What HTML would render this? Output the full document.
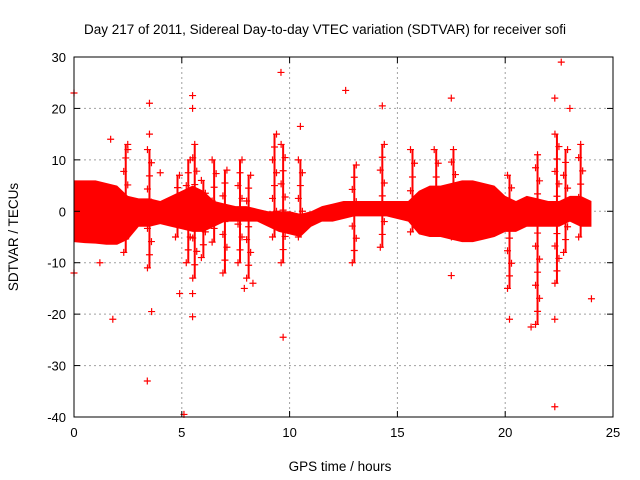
<!DOCTYPE html>
<html><head><meta charset="utf-8">
<style>body{margin:0;background:#fff}svg{display:block;font-family:"Liberation Sans",sans-serif}</style>
</head><body>
<svg id="chart" width="640" height="480">
<rect width="640" height="480" fill="#fff"/>
<text x="325" y="34" font-size="13.5" text-anchor="middle">Day 217 of 2011, Sidereal Day-to-day VTEC variation (SDTVAR) for receiver sofi</text>
<text x="340" y="471" font-size="13.5" text-anchor="middle">GPS time / hours</text>
<text transform="translate(18,237) rotate(-90)" font-size="13.5" text-anchor="middle">SDTVAR / TECUs</text>
<g id="grid"></g><g id="marks"></g><g id="axes"></g>
</svg>
<script>
const xTicks=[0,5,10,15,20,25];
const yTicks=[30,20,10,0,-10,-20,-30,-40];
const bandHours=[0,0.5,1,1.5,2,2.5,3,3.5,4,4.5,5,5.5,6,6.5,7,7.5,8,8.5,9,9.5,10,10.5,11,11.5,12,12.5,13,13.5,14,14.5,15,15.5,16,16.5,17,17.5,18,18.5,19,19.5,20,20.5,21,21.5,22,22.5,23,23.5,24];
const bandUpper=[6,6,6,5.5,5,3,2.5,2.5,2,3,4,5,4,2,1.5,1,1,0.5,0,0,0,-0.5,0,1,1.5,2,2,2,2,2,2,2,4,5,5,5.5,6,6,5.5,5,3,2,3,2.5,2,2,3,3,2];
const bandLower=[-6,-6.2,-6.3,-6.5,-6.5,-5.5,-3,-3,-2.5,-3,-3.5,-4,-4,-3,-2,-2,-2,-2,-3,-4,-4.5,-5,-3,-2,-2,-1.5,-1,-1,-1,-1,-1.5,-2,-4.5,-5,-5,-5.5,-6,-6,-5.5,-5,-4,-4,-3,-3,-3,-3,-2,-3,-3];
const spikeHours=[3.5,5.3,5.6,6.5,7,7.7,8.1,9.3,9.7,10.5,13,14.3,15.7,16.8,17.6,20.2,21.5,22.4,22.8,23.5,2.4,4.8,6.0];
const spikeMin=[-11,-10,-13,-6,-12,-10,-13,-5,-10,-5,-10,-7,-4,-4,-5,-15,-22,-14,-8,-5,-8,-5,-9];
const spikeMax=[12,10,13,10,8,10,7,15,13,10,9,13,12,12,12,7,11,15,12,13,13,7,6];
const outHours=[0,0,1.8,1.7,3.4,3.5,3.5,3.6,4.9,5.1,5.5,5.5,5.5,5.5,9.6,9.7,10.5,12.6,14.3,17.5,17.5,20.2,21.2,22.3,22.3,22.3,22.6,23,24,2.5,8.3,7.9,4.0,1.2];
const outValues=[23,-12,-21,14,-33,21,15,-19.5,-16,-39.5,22.5,20,-20.5,-16,27,-24.5,16.5,23.5,20.5,22,-12.5,-21,-22.5,22,-38,-21,29,20,-17,12,-14,-15,7.5,-10];
const L=74,R=613,T=57,B=417,X0=0,X1=25,Y0=-40,Y1=30;
const xs=v=>L+(v-X0)/(X1-X0)*(R-L), ys=v=>B-(v-Y0)/(Y1-Y0)*(B-T);
const NS='http://www.w3.org/2000/svg';
function mk(p,t,a){const e=document.createElementNS(NS,t);for(const k in a)e.setAttribute(k,a[k]);document.getElementById(p).appendChild(e);return e;}
xTicks.forEach(t=>{const x=xs(t);
 if(t>X0&&t<X1){const g=mk('grid','line',{x1:x,x2:x,y1:T,y2:B,stroke:'#a0a0a0','stroke-dasharray':'2,3'});
 
 }
 mk('axes','line',{x1:x,x2:x,y1:B,y2:B-6,stroke:'#000'});mk('axes','line',{x1:x,x2:x,y1:T,y2:T+6,stroke:'#000'});
 const l=mk('axes','text',{x:x,y:B+20,'font-size':13,'text-anchor':'middle'});l.textContent=t;
 
 });
yTicks.forEach(t=>{const y=ys(t);
 if(t>Y0&&t<Y1){const g=mk('grid','line',{x1:L,x2:R,y1:y,y2:y,stroke:'#a0a0a0','stroke-dasharray':'2,3'});
 
 }
 mk('axes','line',{x1:L,x2:L+6,y1:y,y2:y,stroke:'#000'});mk('axes','line',{x1:R,x2:R-6,y1:y,y2:y,stroke:'#000'});
 const l=mk('axes','text',{x:L-8,y:y+5,'font-size':13,'text-anchor':'end'});l.textContent=t;
 
 });
const fr=mk('axes','rect',{x:L,y:T,width:R-L,height:B-T,fill:'none',stroke:'#000'});


let d='';bandHours.forEach((h,i)=>d+=(i?'L':'M')+xs(h)+','+ys(bandUpper[i]));
for(let i=bandHours.length-1;i>=0;i--)d+='L'+xs(bandHours[i])+','+ys(bandLower[i]);
const band=mk('marks','path',{d:d+'Z',fill:'#ff0000'});


function plus(x,y){mk('marks','path',{d:`M${x-3.5},${y}h7M${x},${y-3.5}v7`,stroke:'#ff0000','stroke-width':1.2});}
spikeHours.forEach((h,i)=>{const x=xs(h);
 const s=mk('marks','line',{x1:x,x2:x,y1:ys(spikeMax[i]),y2:ys(spikeMin[i]),stroke:'#ff0000','stroke-width':2});
 
 
 const n=Math.max(2,Math.round((spikeMax[i]-spikeMin[i])/2.5));
 for(let k=0;k<=n;k++){const v=spikeMin[i]+(spikeMax[i]-spikeMin[i])*k/n;plus(x+((k%3)-1)*2,ys(v));}});
outHours.forEach((h,i)=>plus(xs(h),ys(outValues[i])));
</script>
</body></html>
